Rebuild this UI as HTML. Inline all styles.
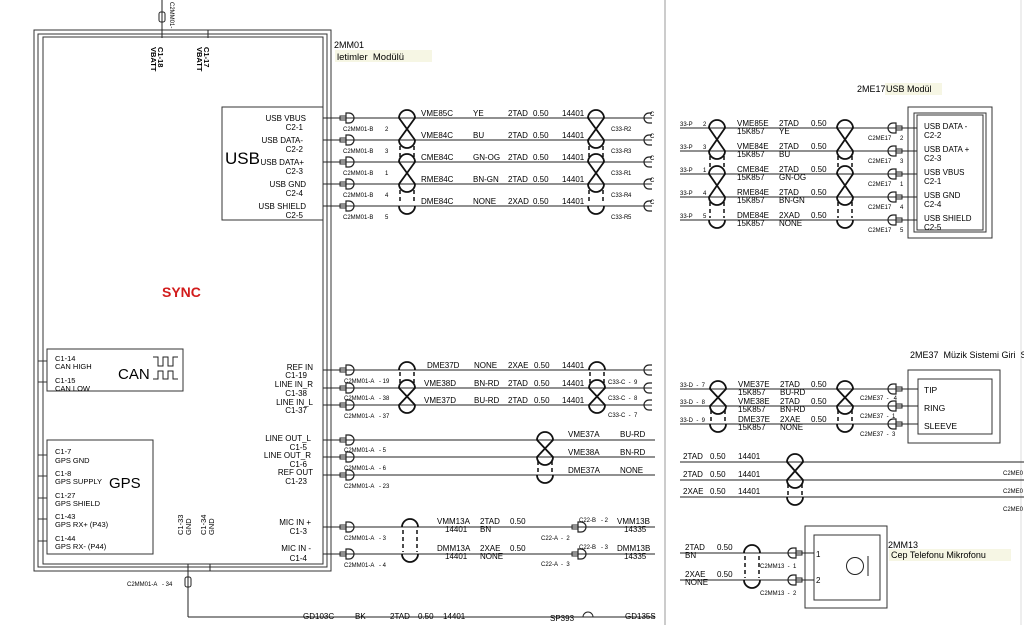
<!DOCTYPE html>
<html><head><meta charset="utf-8"><style>
html,body{margin:0;padding:0;background:#fff;}
svg{display:block;font-family:"Liberation Sans",sans-serif;}
text{white-space:pre;}
</style></head><body>
<svg width="1024" height="625" viewBox="0 0 1024 625" xmlns="http://www.w3.org/2000/svg" xml:space="preserve">
<defs>
<g id="cm"><rect x="0" y="-2" width="6" height="4" fill="none" stroke="#222" stroke-width="1"/><path d="M6 -5 h3 a5 5 0 0 1 0 10 h-3 z" fill="none" stroke="#222" stroke-width="1.2"/></g>
<g id="cf"><path d="M8 -5 h-3 a5 5 0 0 0 0 10 h3" fill="none" stroke="#222" stroke-width="1.2"/></g>
</defs>
<rect width="1024" height="625" fill="#fff"/>
<line x1="665" y1="0" x2="665" y2="625" stroke="#bbb" stroke-width="1.5"/>
<line x1="1021" y1="0" x2="1021" y2="625" stroke="#ddd" stroke-width="1"/>

<g fill="none" stroke="#333" stroke-width="1">
<rect x="34" y="30" width="297" height="541"/>
<rect x="38" y="34" width="289" height="533"/>
<rect x="43" y="37" width="280" height="527"/>
</g>
<line x1="162" y1="0" x2="162" y2="38" stroke="#222"/>
<rect x="159" y="12" width="6" height="10" rx="2" fill="none" stroke="#222"/>
<text x="170" y="2" font-size="6" transform="rotate(90 170 2)">C2MM01-</text>
<line x1="208" y1="30" x2="208" y2="38" stroke="#222"/>
<g font-size="7.5" font-weight="bold">
<text transform="translate(158 47) rotate(90)">C1-18</text><text transform="translate(151 47) rotate(90)">VBATT</text>
<text transform="translate(204 47) rotate(90)">C1-17</text><text transform="translate(197 47) rotate(90)">VBATT</text>
</g>
<text x="334" y="48" font-size="9">2MM01</text>
<rect x="335" y="50" width="97" height="12" fill="#f6f6e4"/>
<text x="337" y="60" font-size="9.5">letimler  Modülü</text>

<text x="162" y="297" font-size="14" font-weight="bold" fill="#d21c1c">SYNC</text>

<rect x="222" y="107" width="101" height="113" fill="none" stroke="#333"/>
<text x="225" y="164" font-size="17">USB</text>
<g font-size="8" text-anchor="end">
<text x="306" y="121">USB VBUS</text><text x="303" y="130">C2-1</text>
<text x="303" y="143">USB DATA-</text><text x="303" y="152">C2-2</text>
<text x="304" y="165">USB DATA+</text><text x="303" y="174">C2-3</text>
<text x="306" y="187">USB GND</text><text x="303" y="196">C2-4</text>
<text x="306" y="209">USB SHIELD</text><text x="303" y="218">C2-5</text>
</g>
<g stroke="#222" stroke-width="1">
<line x1="323" y1="118" x2="652" y2="118"/><line x1="323" y1="140" x2="652" y2="140"/><line x1="323" y1="162" x2="652" y2="162"/><line x1="323" y1="184" x2="652" y2="184"/><line x1="323" y1="206" x2="652" y2="206"/>
</g>
<use href="#cm" x="340" y="118"/><use href="#cm" x="340" y="140"/><use href="#cm" x="340" y="162"/><use href="#cm" x="340" y="184"/><use href="#cm" x="340" y="206"/>
<use href="#cf" x="644" y="118"/><use href="#cf" x="644" y="140"/><use href="#cf" x="644" y="162"/><use href="#cf" x="644" y="184"/><use href="#cf" x="644" y="206"/>
<g font-size="6">
<text x="343" y="131">C2MM01-B</text><text x="385" y="131">2</text>
<text x="343" y="153">C2MM01-B</text><text x="385" y="153">3</text>
<text x="343" y="175">C2MM01-B</text><text x="385" y="175">1</text>
<text x="343" y="197">C2MM01-B</text><text x="385" y="197">4</text>
<text x="343" y="219">C2MM01-B</text><text x="385" y="219">5</text>
<text x="611" y="131">C33-R</text><text x="628" y="131">2</text>
<text x="611" y="153">C33-R</text><text x="628" y="153">3</text>
<text x="611" y="175">C33-R</text><text x="628" y="175">1</text>
<text x="611" y="197">C33-R</text><text x="628" y="197">4</text>
<text x="611" y="219">C33-R</text><text x="628" y="219">5</text>
<text x="650" y="116">C</text><text x="650" y="138">C</text><text x="650" y="160">C</text><text x="650" y="182">C</text><text x="650" y="204">C</text>
</g>
<g font-size="8">
<text x="421" y="116">VME85C</text><text x="473" y="116">YE</text><text x="508" y="116">2TAD</text><text x="533" y="116">0.50</text><text x="562" y="116">14401</text>
<text x="421" y="138">VME84C</text><text x="473" y="138">BU</text><text x="508" y="138">2TAD</text><text x="533" y="138">0.50</text><text x="562" y="138">14401</text>
<text x="421" y="160">CME84C</text><text x="473" y="160">GN-OG</text><text x="508" y="160">2TAD</text><text x="533" y="160">0.50</text><text x="562" y="160">14401</text>
<text x="421" y="182">RME84C</text><text x="473" y="182">BN-GN</text><text x="508" y="182">2TAD</text><text x="533" y="182">0.50</text><text x="562" y="182">14401</text>
<text x="421" y="204">DME84C</text><text x="473" y="204">NONE</text><text x="508" y="204">2XAD</text><text x="533" y="204">0.50</text><text x="562" y="204">14401</text>
</g>
<g fill="none" stroke="#111" stroke-width="1.8">
<path d="M399 118 A8 8 0 0 1 415 118 L399 140 A8 8 0 0 0 415 140 L399 118"/>
<path d="M399 162 A8 8 0 0 1 415 162 L399 184 A8 8 0 0 0 415 184 L399 162"/>
<path d="M399 206 A8 8 0 0 0 415 206"/>
<path d="M588 118 A8 8 0 0 1 604 118 L588 140 A8 8 0 0 0 604 140 L588 118"/>
<path d="M588 162 A8 8 0 0 1 604 162 L588 184 A8 8 0 0 0 604 184 L588 162"/>
<path d="M588 206 A8 8 0 0 0 604 206"/>
</g>
<g stroke="#111" stroke-width="1.5" stroke-dasharray="4 3">
<line x1="400" y1="146" x2="400" y2="158"/><line x1="414" y1="146" x2="414" y2="158"/><line x1="400" y1="190" x2="400" y2="204"/><line x1="414" y1="190" x2="414" y2="204"/>
<line x1="589" y1="146" x2="589" y2="158"/><line x1="603" y1="146" x2="603" y2="158"/><line x1="589" y1="190" x2="589" y2="204"/><line x1="603" y1="190" x2="603" y2="204"/>
</g>

<rect x="47" y="349" width="136" height="42" fill="none" stroke="#333"/>
<line x1="38" y1="361" x2="47" y2="361" stroke="#333"/><line x1="38" y1="382" x2="47" y2="382" stroke="#333"/>
<g font-size="7.5"><text x="55" y="361">C1-14</text><text x="55" y="369">CAN HIGH</text><text x="55" y="383">C1-15</text><text x="55" y="391">CAN LOW</text></g>
<text x="118" y="379" font-size="15">CAN</text>
<path d="M153 357 h5 v9 h5 v-9 h5 v9 h5 v-9 h5 M153 379 h5 v-8 h5 v8 h5 v-8 h5 v8 h5" fill="none" stroke="#222" stroke-width="1"/>

<rect x="47" y="440" width="106" height="114" fill="none" stroke="#333"/>
<g stroke="#333"><line x1="38" y1="455" x2="47" y2="455"/><line x1="38" y1="476" x2="47" y2="476"/><line x1="38" y1="498" x2="47" y2="498"/><line x1="38" y1="519" x2="47" y2="519"/><line x1="38" y1="541" x2="47" y2="541"/></g>
<g font-size="7.5">
<text x="55" y="454">C1-7</text><text x="55" y="463">GPS GND</text>
<text x="55" y="476">C1-8</text><text x="55" y="484">GPS SUPPLY</text>
<text x="55" y="498">C1-27</text><text x="55" y="506">GPS SHIELD</text>
<text x="55" y="519">C1-43</text><text x="55" y="527">GPS RX+ (P43)</text>
<text x="55" y="541">C1-44</text><text x="55" y="549">GPS RX- (P44)</text>
</g>
<text x="109" y="488" font-size="15">GPS</text>
<g font-size="7.5"><text transform="translate(183 535) rotate(-90)">C1-33</text><text transform="translate(191 535) rotate(-90)">GND</text><text transform="translate(206 535) rotate(-90)">C1-34</text><text transform="translate(214 535) rotate(-90)">GND</text></g>
<line x1="188" y1="564" x2="188" y2="617" stroke="#222"/><line x1="210" y1="564" x2="210" y2="571" stroke="#222"/>
<rect x="185" y="577" width="6" height="10" rx="2" fill="none" stroke="#222"/>
<text x="127" y="586" font-size="6">C2MM01-A   - 34</text>
<line x1="188" y1="617" x2="655" y2="617" stroke="#222"/>
<g font-size="8"><text x="303" y="619">GD103C</text><text x="355" y="619">BK</text><text x="390" y="619">2TAD</text><text x="418" y="619">0.50</text><text x="443" y="619">14401</text><text x="550" y="621">SP393</text><text x="625" y="619">GD135S</text></g>
<path d="M583 617 a5 5 0 0 1 10 0" fill="none" stroke="#222"/>

<g font-size="8" text-anchor="end">
<text x="313" y="370">REF IN</text><text x="307" y="378">C1-19</text>
<text x="313" y="387">LINE IN_R</text><text x="307" y="396">C1-38</text>
<text x="313" y="405">LINE IN_L</text><text x="307" y="413">C1-37</text>
<text x="311" y="441">LINE OUT_L</text><text x="307" y="450">C1-5</text>
<text x="311" y="458">LINE OUT_R</text><text x="307" y="467">C1-6</text>
<text x="313" y="475">REF OUT</text><text x="307" y="484">C1-23</text>
<text x="311" y="525">MIC IN +</text><text x="307" y="534">C1-3</text>
<text x="311" y="551">MIC IN -</text><text x="307" y="561">C1-4</text>
</g>
<g stroke="#222">
<line x1="323" y1="370" x2="652" y2="370"/><line x1="323" y1="388" x2="652" y2="388"/><line x1="323" y1="405" x2="652" y2="405"/>
<line x1="323" y1="440" x2="655" y2="440"/><line x1="323" y1="457" x2="655" y2="457"/><line x1="323" y1="475" x2="655" y2="475"/>
<line x1="323" y1="527" x2="655" y2="527"/><line x1="323" y1="554" x2="655" y2="554"/>
</g>
<use href="#cm" x="340" y="370"/><use href="#cm" x="340" y="388"/><use href="#cm" x="340" y="405"/><use href="#cm" x="340" y="440"/><use href="#cm" x="340" y="457"/><use href="#cm" x="340" y="475"/><use href="#cm" x="340" y="527"/><use href="#cm" x="340" y="554"/>
<use href="#cf" x="644" y="370"/><use href="#cf" x="644" y="388"/><use href="#cf" x="644" y="405"/>
<use href="#cm" x="572" y="527"/><use href="#cm" x="572" y="554"/>
<g font-size="6">
<text x="344" y="383">C2MM01-A   - 19</text><text x="344" y="400">C2MM01-A   - 38</text><text x="344" y="418">C2MM01-A   - 37</text>
<text x="344" y="452">C2MM01-A   - 5</text><text x="344" y="470">C2MM01-A   - 6</text><text x="344" y="488">C2MM01-A   - 23</text>
<text x="344" y="540">C2MM01-A   - 3</text><text x="344" y="567">C2MM01-A   - 4</text>
<text x="608" y="384">C33-C  -  9</text><text x="608" y="400">C33-C  -  8</text><text x="608" y="417">C33-C  -  7</text>
<text x="579" y="522">C22-B   - 2</text><text x="541" y="540">C22-A  -  2</text>
<text x="579" y="549">C22-B   - 3</text><text x="541" y="566">C22-A  -  3</text>
</g>
<g font-size="8">
<text x="427" y="368">DME37D</text><text x="474" y="368">NONE</text><text x="508" y="368">2XAE</text><text x="534" y="368">0.50</text><text x="562" y="368">14401</text>
<text x="424" y="386">VME38D</text><text x="474" y="386">BN-RD</text><text x="508" y="386">2TAD</text><text x="534" y="386">0.50</text><text x="562" y="386">14401</text>
<text x="424" y="403">VME37D</text><text x="474" y="403">BU-RD</text><text x="508" y="403">2TAD</text><text x="534" y="403">0.50</text><text x="562" y="403">14401</text>
<text x="568" y="437">VME37A</text><text x="620" y="437">BU-RD</text>
<text x="568" y="455">VME38A</text><text x="620" y="455">BN-RD</text>
<text x="568" y="473">DME37A</text><text x="620" y="473">NONE</text>
<text x="437" y="524">VMM13A</text><text x="480" y="524">2TAD</text><text x="510" y="524">0.50</text>
<text x="445" y="532">14401</text><text x="480" y="532">BN</text>
<text x="437" y="551">DMM13A</text><text x="480" y="551">2XAE</text><text x="510" y="551">0.50</text>
<text x="445" y="559">14401</text><text x="480" y="559">NONE</text>
<text x="617" y="524">VMM13B</text><text x="624" y="532">14335</text>
<text x="617" y="551">DMM13B</text><text x="624" y="559">14335</text>
</g>
<g fill="none" stroke="#111" stroke-width="1.8">
<path d="M399 370 A8 8 0 0 1 415 370"/>
<path d="M399 388 A8 8 0 0 1 415 388 L399 405 A8 8 0 0 0 415 405 L399 388"/>
<path d="M589 370 A8 8 0 0 1 605 370"/>
<path d="M589 388 A8 8 0 0 1 605 388 L589 405 A8 8 0 0 0 605 405 L589 388"/>
<path d="M537 440 A8 8 0 0 1 553 440 L537 457 A8 8 0 0 0 553 457 L537 440"/>
<path d="M537 475 A8 8 0 0 0 553 475"/>
<path d="M402 527 A8 8 0 0 1 418 527 M402 554 A8 8 0 0 0 418 554"/>
</g>
<g stroke="#111" stroke-width="1.5" stroke-dasharray="4 3">
<line x1="400" y1="372" x2="400" y2="384"/><line x1="414" y1="372" x2="414" y2="384"/>
<line x1="590" y1="372" x2="590" y2="384"/><line x1="604" y1="372" x2="604" y2="384"/>
<line x1="538" y1="461" x2="538" y2="473"/><line x1="552" y1="461" x2="552" y2="473"/>
<line x1="403" y1="530" x2="403" y2="552"/><line x1="417" y1="530" x2="417" y2="552"/>
</g>

<text x="857" y="92" font-size="9">2ME17</text>
<rect x="885" y="83" width="57" height="12" fill="#f6f6e4"/>
<text x="886" y="92" font-size="9">USB Modül</text>
<rect x="908" y="107" width="84" height="131" fill="none" stroke="#333"/>
<rect x="914" y="113" width="72" height="119" fill="none" stroke="#333"/>
<rect x="917" y="115" width="66" height="115" fill="none" stroke="#333"/>
<g font-size="8">
<text x="924" y="129">USB DATA -</text><text x="924" y="138">C2-2</text>
<text x="924" y="152">USB DATA +</text><text x="924" y="161">C2-3</text>
<text x="924" y="175">USB VBUS</text><text x="924" y="184">C2-1</text>
<text x="924" y="198">USB GND</text><text x="924" y="207">C2-4</text>
<text x="924" y="221">USB SHIELD</text><text x="924" y="230">C2-5</text>
</g>
<g stroke="#222">
<line x1="680" y1="128" x2="917" y2="128"/><line x1="680" y1="151" x2="917" y2="151"/><line x1="680" y1="174" x2="917" y2="174"/><line x1="680" y1="197" x2="917" y2="197"/><line x1="680" y1="220" x2="917" y2="220"/>
</g>
<g transform="translate(1797 0) scale(-1 1)">
<use href="#cm" x="895" y="128"/><use href="#cm" x="895" y="151"/><use href="#cm" x="895" y="174"/><use href="#cm" x="895" y="197"/><use href="#cm" x="895" y="220"/>
</g>
<g font-size="6">
<text x="680" y="126">33-P</text><text x="703" y="126">2</text>
<text x="680" y="149">33-P</text><text x="703" y="149">3</text>
<text x="680" y="172">33-P</text><text x="703" y="172">1</text>
<text x="680" y="195">33-P</text><text x="703" y="195">4</text>
<text x="680" y="218">33-P</text><text x="703" y="218">5</text>
<text x="868" y="140">C2ME17</text><text x="900" y="140">2</text>
<text x="868" y="163">C2ME17</text><text x="900" y="163">3</text>
<text x="868" y="186">C2ME17</text><text x="900" y="186">1</text>
<text x="868" y="209">C2ME17</text><text x="900" y="209">4</text>
<text x="868" y="232">C2ME17</text><text x="900" y="232">5</text>
</g>
<g font-size="8">
<text x="737" y="126">VME85E</text><text x="779" y="126">2TAD</text><text x="811" y="126">0.50</text><text x="737" y="134">15K857</text><text x="779" y="134">YE</text>
<text x="737" y="149">VME84E</text><text x="779" y="149">2TAD</text><text x="811" y="149">0.50</text><text x="737" y="157">15K857</text><text x="779" y="157">BU</text>
<text x="737" y="172">CME84E</text><text x="779" y="172">2TAD</text><text x="811" y="172">0.50</text><text x="737" y="180">15K857</text><text x="779" y="180">GN-OG</text>
<text x="737" y="195">RME84E</text><text x="779" y="195">2TAD</text><text x="811" y="195">0.50</text><text x="737" y="203">15K857</text><text x="779" y="203">BN-GN</text>
<text x="737" y="218">DME84E</text><text x="779" y="218">2XAD</text><text x="811" y="218">0.50</text><text x="737" y="226">15K857</text><text x="779" y="226">NONE</text>
</g>
<g fill="none" stroke="#111" stroke-width="1.8">
<path d="M709 128 A8 8 0 0 1 725 128 L709 151 A8 8 0 0 0 725 151 L709 128"/>
<path d="M709 174 A8 8 0 0 1 725 174 L709 197 A8 8 0 0 0 725 197 L709 174"/>
<path d="M709 220 A8 8 0 0 0 725 220"/>
<path d="M837 128 A8 8 0 0 1 853 128 L837 151 A8 8 0 0 0 853 151 L837 128"/>
<path d="M837 174 A8 8 0 0 1 853 174 L837 197 A8 8 0 0 0 853 197 L837 174"/>
<path d="M837 220 A8 8 0 0 0 853 220"/>
</g>
<g stroke="#111" stroke-width="1.5" stroke-dasharray="4 3">
<line x1="710" y1="156" x2="710" y2="170"/><line x1="724" y1="156" x2="724" y2="170"/><line x1="710" y1="202" x2="710" y2="218"/><line x1="724" y1="202" x2="724" y2="218"/>
<line x1="838" y1="156" x2="838" y2="170"/><line x1="852" y1="156" x2="852" y2="170"/><line x1="838" y1="202" x2="838" y2="218"/><line x1="852" y1="202" x2="852" y2="218"/>
</g>

<text x="910" y="358" font-size="9">2ME37  Müzik Sistemi Giri  So</text>
<rect x="908" y="370" width="92" height="73" fill="none" stroke="#333"/>
<rect x="918" y="379" width="74" height="55" fill="none" stroke="#333"/>
<g font-size="8.5"><text x="924" y="393">TIP</text><text x="924" y="411">RING</text><text x="924" y="429">SLEEVE</text></g>
<g stroke="#222"><line x1="680" y1="389" x2="918" y2="389"/><line x1="680" y1="406" x2="918" y2="406"/><line x1="680" y1="424" x2="918" y2="424"/></g>
<g transform="translate(1797 0) scale(-1 1)"><use href="#cm" x="895" y="389"/><use href="#cm" x="895" y="406"/><use href="#cm" x="895" y="424"/></g>
<g font-size="6">
<text x="680" y="387">33-D  -  7</text><text x="680" y="404">33-D  -  8</text><text x="680" y="422">33-D  -  9</text>
<text x="860" y="400">C2ME37  -   4</text><text x="860" y="418">C2ME37  -  1</text><text x="860" y="436">C2ME37  -  3</text>
</g>
<g font-size="8">
<text x="738" y="387">VME37E</text><text x="780" y="387">2TAD</text><text x="811" y="387">0.50</text><text x="738" y="395">15K857</text><text x="780" y="395">BU-RD</text>
<text x="738" y="404">VME38E</text><text x="780" y="404">2TAD</text><text x="811" y="404">0.50</text><text x="738" y="412">15K857</text><text x="780" y="412">BN-RD</text>
<text x="738" y="422">DME37E</text><text x="780" y="422">2XAE</text><text x="811" y="422">0.50</text><text x="738" y="430">15K857</text><text x="780" y="430">NONE</text>
</g>
<g fill="none" stroke="#111" stroke-width="1.8">
<path d="M710 389 A8 8 0 0 1 726 389 L710 406 A8 8 0 0 0 726 406 L710 389"/><path d="M710 424 A8 8 0 0 0 726 424"/>
<path d="M837 389 A8 8 0 0 1 853 389 L837 406 A8 8 0 0 0 853 406 L837 389"/><path d="M837 424 A8 8 0 0 0 853 424"/>
</g>
<g stroke="#111" stroke-width="1.5" stroke-dasharray="4 3">
<line x1="711" y1="410" x2="711" y2="422"/><line x1="725" y1="410" x2="725" y2="422"/><line x1="838" y1="410" x2="838" y2="422"/><line x1="852" y1="410" x2="852" y2="422"/>
</g>

<g stroke="#222"><line x1="680" y1="462" x2="1024" y2="462"/><line x1="680" y1="480" x2="1024" y2="480"/><line x1="680" y1="497" x2="1024" y2="497"/></g>
<g font-size="8">
<text x="683" y="459">2TAD</text><text x="710" y="459">0.50</text><text x="738" y="459">14401</text>
<text x="683" y="477">2TAD</text><text x="710" y="477">0.50</text><text x="738" y="477">14401</text>
<text x="683" y="494">2XAE</text><text x="710" y="494">0.50</text><text x="738" y="494">14401</text>
</g>
<g font-size="6"><text x="1003" y="475">C2ME0</text><text x="1003" y="493">C2ME0</text><text x="1003" y="511">C2ME0</text></g>
<g fill="none" stroke="#111" stroke-width="1.8">
<path d="M787 462 A8 8 0 0 1 803 462 L787 480 A8 8 0 0 0 803 480 L787 462"/><path d="M787 497 A8 8 0 0 0 803 497"/>
</g>
<g stroke="#111" stroke-width="1.5" stroke-dasharray="4 3"><line x1="788" y1="484" x2="788" y2="495"/><line x1="802" y1="484" x2="802" y2="495"/></g>

<rect x="805" y="526" width="82" height="82" fill="none" stroke="#333"/>
<rect x="814" y="535" width="66" height="65" fill="none" stroke="#333"/>
<circle cx="855" cy="566" r="8.5" fill="none" stroke="#222"/>
<line x1="868" y1="556" x2="868" y2="576" stroke="#222"/>
<g stroke="#222"><line x1="680" y1="553" x2="814" y2="553"/><line x1="680" y1="580" x2="814" y2="580"/></g>
<g transform="translate(1597 0) scale(-1 1)"><use href="#cm" x="795" y="553"/><use href="#cm" x="795" y="580"/></g>
<g font-size="8"><text x="816" y="557">1</text><text x="816" y="583">2</text>
<text x="685" y="550">2TAD</text><text x="717" y="550">0.50</text><text x="685" y="558">BN</text>
<text x="685" y="577">2XAE</text><text x="717" y="577">0.50</text><text x="685" y="585">NONE</text></g>
<g font-size="6"><text x="760" y="568">C2MM13  -  1</text><text x="760" y="595">C2MM13  -  2</text></g>
<g fill="none" stroke="#111" stroke-width="1.8"><path d="M744 553 A8 8 0 0 1 760 553 M744 580 A8 8 0 0 0 760 580"/></g>
<g stroke="#111" stroke-width="1.5" stroke-dasharray="4 3"><line x1="745" y1="556" x2="745" y2="578"/><line x1="759" y1="556" x2="759" y2="578"/></g>
<text x="888" y="548" font-size="9">2MM13</text>
<rect x="889" y="549" width="122" height="12" fill="#f6f6e4"/>
<text x="891" y="558" font-size="9">Cep Telefonu Mikrofonu</text>
</svg>
</body></html>
